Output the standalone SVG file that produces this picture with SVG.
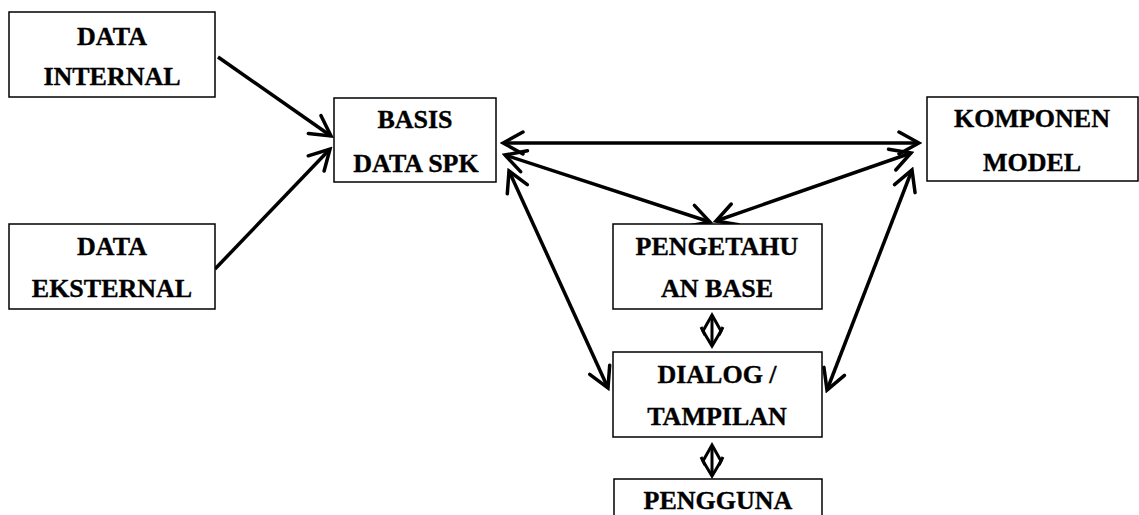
<svg xmlns="http://www.w3.org/2000/svg" width="1139" height="515" viewBox="0 0 1139 515">
  <style>
    .box { fill: #fff; stroke: #000; stroke-width: 1.5; }
    .lbl { font-family: "Liberation Serif", "Times New Roman", serif; font-weight: bold; font-size: 26px; fill: #000; stroke: #000; stroke-width: 0.35; text-anchor: middle; }
    .link { stroke: #000; stroke-width: 3.5; fill: none; }
    .mini { stroke: #000; stroke-width: 3; fill: none; stroke-linejoin: miter; }
  </style>
  <defs>
    <marker id="vhead" markerUnits="userSpaceOnUse" markerWidth="28" markerHeight="28" viewBox="0 0 28 28" refX="25" refY="14" orient="auto-start-reverse">
      <path d="M5,3 L25,14 L5,25" fill="none" stroke="#000" stroke-width="3.5" stroke-linecap="round" stroke-linejoin="miter"/>
    </marker>
  </defs>
  <rect width="1139" height="515" fill="#fff"/>

  <g id="connectors">
    <line class="link" x1="218" y1="57" x2="331" y2="136" marker-end="url(#vhead)"/>
    <line class="link" x1="215" y1="269" x2="330" y2="149" marker-end="url(#vhead)"/>
    <line class="link" x1="503" y1="143" x2="919" y2="143" marker-start="url(#vhead)" marker-end="url(#vhead)"/>
    <line class="link" x1="505" y1="155" x2="710" y2="222" marker-start="url(#vhead)" marker-end="url(#vhead)"/>
    <line class="link" x1="911" y1="153" x2="716" y2="221" marker-start="url(#vhead)" marker-end="url(#vhead)"/>
    <line class="link" x1="509" y1="171" x2="608" y2="388" marker-start="url(#vhead)" marker-end="url(#vhead)"/>
    <line class="link" x1="912" y1="170" x2="827" y2="390" marker-start="url(#vhead)" marker-end="url(#vhead)"/>
    <!-- short two-way links in the centre column -->
    <g id="mini-1">
      <path class="mini" d="M712,315 L721,331 L712,346 L703,331 Z"/>
      <line class="mini" x1="712" y1="315" x2="712" y2="346"/>
      <path class="mini" d="M701,327 L705,335 M723,327 L719,335"/>
    </g>
    <g id="mini-2">
      <path class="mini" d="M712,445 L721,461 L712,476 L703,461 Z"/>
      <line class="mini" x1="712" y1="445" x2="712" y2="476"/>
      <path class="mini" d="M701,457 L705,465 M723,457 L719,465"/>
    </g>
  </g>

  <g id="data-internal">
    <rect class="box" x="9" y="12" width="206" height="85"/>
    <text class="lbl" x="112" y="45">DATA</text>
    <text class="lbl" x="112" y="85">INTERNAL</text>
  </g>

  <g id="data-eksternal">
    <rect class="box" x="9" y="224" width="206" height="85"/>
    <text class="lbl" x="112" y="255">DATA</text>
    <text class="lbl" x="112" y="297">EKSTERNAL</text>
  </g>

  <g id="basis-data">
    <rect class="box" x="334" y="98" width="162" height="84"/>
    <text class="lbl" x="415" y="128">BASIS</text>
    <text class="lbl" x="416" y="172">DATA SPK</text>
  </g>

  <g id="komponen-model">
    <rect class="box" x="927" y="97" width="211" height="84"/>
    <text class="lbl" x="1032" y="127">KOMPONEN</text>
    <text class="lbl" x="1032" y="171">MODEL</text>
  </g>

  <g id="pengetahuan-base">
    <rect class="box" x="613" y="224" width="209" height="85"/>
    <text class="lbl" x="717" y="255">PENGETAHU</text>
    <text class="lbl" x="717" y="297">AN BASE</text>
  </g>

  <g id="dialog-tampilan">
    <rect class="box" x="613" y="352" width="209" height="85"/>
    <text class="lbl" x="717" y="383">DIALOG /</text>
    <text class="lbl" x="717" y="425">TAMPILAN</text>
  </g>

  <g id="pengguna">
    <rect class="box" x="614" y="479" width="208" height="60"/>
    <text class="lbl" x="718" y="509">PENGGUNA</text>
  </g>
</svg>
